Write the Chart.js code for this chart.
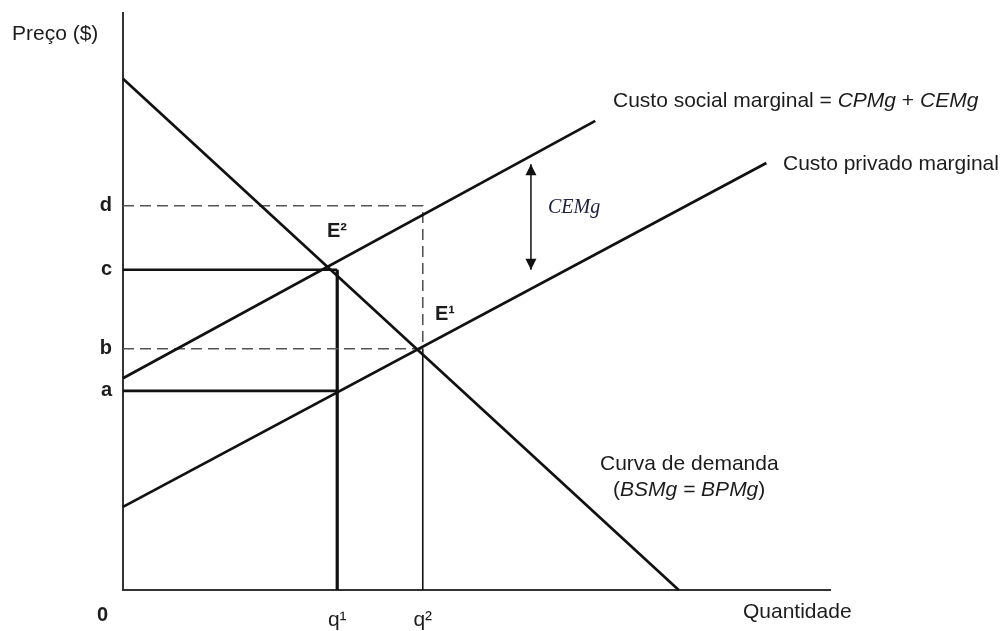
<!DOCTYPE html>
<html>
<head>
<meta charset="utf-8">
<script src="https://cdn.jsdelivr.net/npm/chart.js@4.4.1/dist/chart.umd.min.js"></script>
<style>
  html, body { margin: 0; padding: 0; background: #ffffff; }
  #wrap { width: 1003px; height: 631px; position: relative; }
</style>
</head>
<body>
<div id="wrap"><canvas id="c" width="1003" height="631"></canvas></div>
<script>
// ---------- data (units 0..100 on both axes) ----------
const demandCurve      = [[0, 88.6], [78.6, 0]];     // Curva de demanda (BSMg = BPMg)
const socialCostCurve  = [[0, 36.7], [66.8, 81.3]];  // Custo social marginal
const privateCostCurve = [[0, 14.4], [91.0, 74.0]];  // Custo privado marginal

const priceLevels   = [34.5, 41.8, 55.5, 66.6];       // a, b, c, d
const priceLabels   = ['a', 'b', 'c', 'd'];
const quantities    = [30.3, 42.4];                   // q1, q2
const quantityLabels = ['q\u00B9', 'q\u00B2'];

const externalityArrow = { x: 57.7, from: 55.5, to: 73.8 }; // CEMg double arrow

// ---------- derived guide lines ----------
const [pa, pb, pc, pd] = priceLevels;
const [q1, q2] = quantities;
const toPts = arr => arr.map(([x, y]) => ({ x, y }));

const INK = '#111111';
const DASH = '#555555';

function lineDs(data, width, color, dash) {
  return {
    data, showLine: true, borderColor: color, borderWidth: width,
    borderDash: dash || [], pointRadius: 0, pointHoverRadius: 0,
    fill: false, tension: 0, clip: false, borderCapStyle: 'butt'
  };
}

const datasets = [
  lineDs(toPts(demandCurve), 2.7, INK),
  lineDs(toPts(socialCostCurve), 2.7, INK),
  lineDs(toPts(privateCostCurve), 2.7, INK),
  // d dashed: horizontal to q2 then down to b
  lineDs([{x: 0, y: pd}, {x: q2, y: pd}, {x: q2, y: pb}], 1.6, DASH, [11, 6]),
  // b dashed horizontal
  lineDs([{x: 0, y: pb}, {x: q2, y: pb}], 1.6, DASH, [11, 6]),
  // q2 vertical solid from b to axis
  lineDs([{x: q2, y: pb}, {x: q2, y: 0}], 1.6, INK),
  // c horizontal and q1 vertical
  lineDs([{x: 0, y: pc}, {x: q1, y: pc}], 2.7, INK),
  lineDs([{x: q1, y: pc}, {x: q1, y: 0}], 3.2, INK),
  // a horizontal
  lineDs([{x: 0, y: pa}, {x: q1, y: pa}], 2.7, INK),
  // CEMg arrow shaft
  lineDs([{x: externalityArrow.x, y: externalityArrow.from}, {x: externalityArrow.x, y: externalityArrow.to}], 1.5, INK)
];

// ---------- annotation plugin ----------
const SANS = '"Liberation Sans", Arial, sans-serif';
const SERIF = '"Liberation Serif", "Times New Roman", serif';

function drawRuns(ctx, x, y, runs, color) {
  ctx.fillStyle = color;
  ctx.textBaseline = 'alphabetic';
  ctx.textAlign = 'left';
  let cx = x;
  for (const [text, font] of runs) {
    ctx.font = font;
    ctx.fillText(text, cx, y);
    cx += ctx.measureText(text).width;
  }
}

const annotations = {
  id: 'annotations',
  afterDatasetsDraw(chart) {
    const ctx = chart.ctx;
    const xs = chart.scales.x, ys = chart.scales.y;
    ctx.save();
    // arrow heads
    const ax = xs.getPixelForValue(externalityArrow.x);
    const aTop = ys.getPixelForValue(externalityArrow.to);
    const aBot = ys.getPixelForValue(externalityArrow.from);
    ctx.fillStyle = INK;
    ctx.beginPath();
    ctx.moveTo(ax, aTop); ctx.lineTo(ax - 5.5, aTop + 11); ctx.lineTo(ax + 5.5, aTop + 11); ctx.closePath(); ctx.fill();
    ctx.beginPath();
    ctx.moveTo(ax, aBot); ctx.lineTo(ax - 5.5, aBot - 11); ctx.lineTo(ax + 5.5, aBot - 11); ctx.closePath(); ctx.fill();

    const col = '#1c1c1c';
    const reg = '21px ' + SANS, ita = 'italic 21px ' + SANS, bold = 'bold 20px ' + SANS;
    drawRuns(ctx, 12, 40, [['Pre\u00E7o ($)', reg]], col);
    drawRuns(ctx, 613, 107, [['Custo social marginal = ', reg], ['CPMg', ita], [' + ', reg], ['CEMg', ita]], col);
    drawRuns(ctx, 783, 170, [['Custo privado marginal', reg]], col);
    drawRuns(ctx, 600, 470, [['Curva de demanda', reg]], col);
    drawRuns(ctx, 613, 496, [['(', reg], ['BSMg = BPMg', ita], [')', reg]], col);
    drawRuns(ctx, 743, 618, [['Quantidade', reg]], col);
    drawRuns(ctx, 548, 213, [['CEMg', 'italic 20px ' + SERIF]], '#22223a');
    drawRuns(ctx, 327, 237, [['E\u00B2', bold]], col);
    drawRuns(ctx, 435, 320, [['E\u00B9', bold]], col);
    drawRuns(ctx, 97, 621, [['0', bold]], col);
    ctx.restore();
  }
};

function noPad(s) { s.paddingTop = 0; s.paddingBottom = 0; s.paddingLeft = 0; s.paddingRight = 0; }

new Chart(document.getElementById('c'), {
  type: 'scatter',
  data: { datasets },
  options: {
    responsive: false,
    animation: false,
    events: [],
    layout: { padding: { left: 0, top: 13, right: 173, bottom: 0 } },
    plugins: { legend: { display: false }, tooltip: { enabled: false } },
    scales: {
      x: {
        type: 'linear', min: 0, max: 100,
        grid: { display: false, drawTicks: false },
        border: { display: true, color: '#333333', width: 2 },
        afterBuildTicks: s => { s.ticks = quantities.map(v => ({ value: v })); },
        afterFit: s => { s.height = 41; noPad(s); },
        ticks: {
          autoSkip: false, maxRotation: 0, padding: 18,
          color: '#1c1c1c', font: { family: SANS, size: 21 },
          callback: (v, i) => quantityLabels[i]
        }
      },
      y: {
        type: 'linear', min: 0, max: 100,
        grid: { display: false, drawTicks: false },
        border: { display: true, color: '#333333', width: 2 },
        afterBuildTicks: s => { s.ticks = priceLevels.map(v => ({ value: v })); },
        afterFit: s => { s.width = 123; noPad(s); },
        ticks: {
          autoSkip: false, padding: 11,
          color: '#1c1c1c', font: { family: SANS, size: 20, weight: 'bold' },
          callback: (v, i) => priceLabels[i]
        }
      }
    }
  },
  plugins: [annotations]
});
</script>
</body>
</html>
